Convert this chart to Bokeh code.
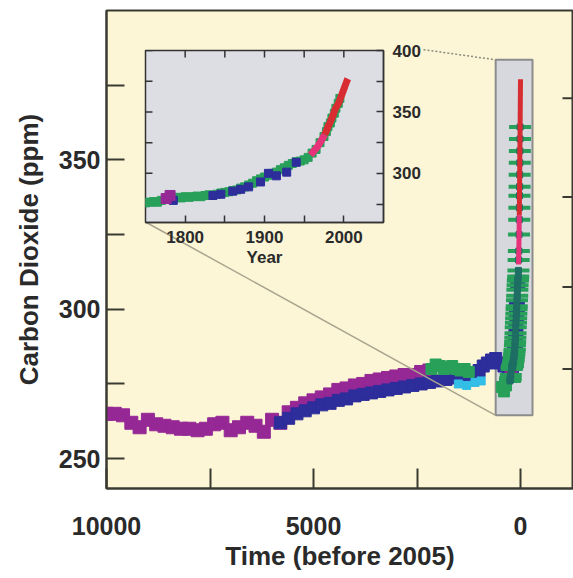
import math
from bokeh.plotting import figure
from bokeh.models import Range1d, FixedTicker
from bokeh.embed import file_html
from bokeh.resources import INLINE

# ---------------- data ----------------
# main panel: years before 2005, CO2 (ppm)
purple_age = [10000, 9800, 9600, 9400, 9200, 9000, 8800, 8600, 8400, 8200, 8000, 7800,
              7600, 7400, 7200, 7000, 6800, 6600, 6400, 6200, 6000, 5800, 5600, 5400,
              5200, 5000, 4800, 4600, 4400, 4200, 4000, 3800, 3600, 3400, 3200, 3000,
              2800, 2600, 2400, 2200]
purple_ppm = [265, 265, 264.5, 262, 260.5, 263, 261.5, 261, 260.5, 260, 260, 259.5,
              260, 261.5, 262, 259.5, 260.5, 262, 261, 259, 263, 262, 265.5, 267,
              268.5, 269.5, 270.5, 271.5, 273, 273.5, 274.5, 275, 276, 276.5, 277, 277.5,
              278, 278, 279, 279.5]

blue_age = [5800, 5600, 5400, 5200, 5000, 4800, 4600, 4400, 4200, 4000, 3800, 3600,
            3400, 3200, 3000, 2800, 2600, 2400, 2200, 2000, 1800, 1600, 1400, 1200,
            1000, 900, 800, 700, 600, 500, 400, 300, 250]
blue_ppm = [262, 263.5, 265, 266, 267, 268, 268.5, 269.5, 270, 271, 271.5, 272,
            272.5, 273, 273.5, 274, 274.5, 275, 275.5, 276, 276.5, 277, 277.5, 278,
            279.5, 281, 282, 283, 283.5, 282, 281, 280, 281]

green_old_age = [2150, 2050, 1950, 1850, 1750, 1650, 1550, 1450, 1350, 1250, 450, 400, 350]
green_old_ppm = [280, 281.5, 281, 280, 280.5, 281, 280, 279.5, 280, 279, 274, 272.5, 274.5]

cyan_age = [1500, 1300, 1100, 950]
cyan_ppm = [275, 274.5, 275.5, 276]

# industrial era (calendar year, ppm) -- shown in the inset and in the spike
green_year = [1750, 1755, 1760, 1765, 1770, 1790, 1795, 1800, 1805, 1810, 1815, 1820,
              1825, 1830, 1840, 1845, 1850, 1855, 1860, 1865, 1870, 1875, 1880, 1885,
              1890, 1895, 1900, 1905, 1910, 1915, 1920, 1925, 1930, 1935, 1940, 1945,
              1950, 1955, 1960, 1965, 1970, 1975, 1978, 1980, 1983, 1985, 1988, 1990,
              1993, 1995]
green_ppm = [276, 276.5, 277, 276.5, 278, 280.5, 280, 281, 280.5, 281, 281.5, 281,
             282, 282.5, 283, 284, 284.5, 285, 286, 286.5, 288, 289, 290.5, 292,
             294, 295.5, 297, 298.5, 300, 301, 303, 304.5, 306.5, 308, 309.5, 310,
             311, 313, 316.5, 319.5, 325, 330, 334, 338, 341, 345, 349, 353,
             357, 361]

navy_year = [1785, 1835, 1845, 1860, 1870, 1880, 1895, 1905, 1915, 1928, 1940]
navy_ppm = [278, 282, 283, 285.5, 287, 289, 293, 300, 298, 301, 309]

purple_ind_year = [1776, 1781]
purple_ind_ppm = [279.5, 282]

ml_year = [1958, 1960, 1962, 1964, 1966, 1968, 1970, 1972, 1974, 1976, 1978, 1980,
           1982, 1984, 1986, 1988, 1990, 1992, 1994, 1996, 1998, 2000, 2002, 2004, 2005]
ml_ppm = [315.0, 316.5, 318.0, 319.5, 321.0, 322.8, 325.0, 327.0, 329.5, 331.5, 334.5,
          338.0, 340.5, 343.5, 346.5, 350.5, 353.5, 355.5, 358.0, 361.5, 365.0, 368.5,
          372.0, 375.5, 377.0]
PINK_UNTIL = 1976

# ticks
x_ticks = [10000, 7500, 5000, 2500, 0]
x_labels = ["10000", "", "5000", "", "0"]
y_ticks = [250, 275, 300, 325, 350, 375]
y_labels = ["250", "", "300", "", "350", ""]
rf_ticks = [0.0, 0.5, 1.0, 1.5]          # radiative forcing (W m-2), right-hand ticks
ins_x_ticks = [1800, 1850, 1900, 1950, 2000]
ins_x_labels = ["1800", "", "1900", "", "2000"]
ins_y_ticks = [275, 300, 325, 350, 375, 400]
ins_y_labels = ["", "300", "", "350", "", "400"]

# zoom box and connectors (main panel data coords)
BOX = dict(left=600, right=-290, bottom=264.5, top=383.5)
CONN_SOLID = ([9058, 600], [329.2, 264.5])
CONN_DOT = ([2343, 600], [386.9, 383.5])

# ---------------- style ----------------
CREAM = "#FCF6D6"
AX = "#3A3A32"
FONT = "Liberation Sans"
C_PURPLE = "#962896"
C_BLUE = "#2D2D9B"
C_GREEN = "#28A05A"
C_CYAN = "#32BEE6"
C_RED = "#D72D32"
C_PINK = "#E63278"


def style_axis(ax, color, width):
    ax.axis_line_color = color
    ax.axis_line_width = width
    ax.major_tick_line_color = color
    ax.major_tick_line_width = width
    ax.major_tick_out = 0
    ax.minor_tick_line_color = None
    ax.minor_tick_out = 0
    ax.minor_tick_in = 0
    ax.major_label_text_font = FONT
    ax.major_label_text_font_style = "bold"
    ax.major_label_text_color = "#2A2A2A"
    ax.axis_label_text_font = FONT
    ax.axis_label_text_font_style = "bold"
    ax.axis_label_text_color = "#2A2A2A"


p = figure(width=573, height=578, output_backend="svg", toolbar_location=None,
           x_range=Range1d(10000, -1280), y_range=Range1d(240, 400),
           min_border_left=106, min_border_right=0, min_border_top=10, min_border_bottom=90,
           background_fill_color=CREAM, border_fill_color="white")
p.grid.visible = False
p.outline_line_color = AX
p.outline_line_width = 2

xa = p.xaxis[0]
xa.ticker = FixedTicker(ticks=x_ticks)
xa.major_label_overrides = dict(zip(x_ticks, x_labels))
xa.axis_label = "Time (before 2005)"
ya = p.yaxis[0]
ya.ticker = FixedTicker(ticks=y_ticks)
ya.major_label_overrides = dict(zip(y_ticks, y_labels))
ya.axis_label = "Carbon Dioxide (ppm)"
for ax in (xa, ya):
    style_axis(ax, AX, 2)
xa.major_tick_in = 20
ya.major_tick_in = 18
xa.major_label_text_font_size = "25px"
ya.major_label_text_font_size = "25px"
xa.axis_label_text_font_size = "26px"
ya.axis_label_text_font_size = "26px"
xa.major_label_standoff = 28
ya.major_label_standoff = 6
xa.axis_label_standoff = 3
ya.axis_label_standoff = 12

# zoom box
p.quad(left=BOX["left"], right=BOX["right"], bottom=BOX["bottom"], top=BOX["top"],
       fill_color="#D6D8DD", line_color="#8C8C8C", line_width=2)

# right-hand (radiative forcing) ticks, half of each dash clipped by the frame
rf_ppm = [280 * math.exp(f / 5.35) for f in rf_ticks]
p.scatter([p.x_range.end] * len(rf_ppm), rf_ppm, marker="dash", size=22,
          line_width=2, line_color=AX)

# data
p.scatter(purple_age, purple_ppm, marker="square", size=13, color=C_PURPLE)
p.scatter(blue_age, blue_ppm, marker="square", size=12, color=C_BLUE)
p.scatter(green_old_age, green_old_ppm, marker="square", size=11, color=C_GREEN)
p.scatter(cyan_age, cyan_ppm, marker="square", size=8, color=C_CYAN)

g_age = [2005 - y for y in green_year]
n_age = [2005 - y for y in navy_year]
pi_age = [2005 - y for y in purple_ind_year]
p.scatter(n_age, navy_ppm, marker="square", size=14, color=C_BLUE)
p.scatter(pi_age, purple_ind_ppm, marker="square", size=12, color=C_PURPLE)
p.scatter(g_age, green_ppm, marker="dash", size=22, line_width=4, color=C_GREEN)
p.scatter(g_age, green_ppm, marker="square", size=6, color="#1E6E64")

pink_y = [y for y in ml_year if y <= PINK_UNTIL]
pink_v = [v for y, v in zip(ml_year, ml_ppm) if y <= PINK_UNTIL]
red_y = [y for y in ml_year if y >= PINK_UNTIL]
red_v = [v for y, v in zip(ml_year, ml_ppm) if y >= PINK_UNTIL]
p.line([2005 - y for y in pink_y], pink_v, line_width=5, color=C_PINK)
p.line([2005 - y for y in red_y], red_v, line_width=5, color=C_RED)

# connectors
p.line(CONN_SOLID[0], CONN_SOLID[1], line_color="#A9A48E", line_width=1.5)
p.line(CONN_DOT[0], CONN_DOT[1], line_color="#8A8A80", line_width=1.5, line_dash="2 2")

# ---------------- inset ----------------
INS_LEFT, INS_TOP = 4, 12
ins = figure(width=287, height=234, output_backend="svg", toolbar_location=None,
             x_range=Range1d(1750, 2050), y_range=Range1d(260, 400),
             y_axis_location="right",
             min_border_left=INS_LEFT, min_border_right=45, min_border_top=INS_TOP,
             min_border_bottom=50,
             background_fill_color="#DCDEE4", border_fill_alpha=0)
ins.grid.visible = False
ins.outline_line_color = "#333333"
ins.outline_line_width = 1.5

ixa = ins.xaxis[0]
ixa.ticker = FixedTicker(ticks=ins_x_ticks)
ixa.major_label_overrides = dict(zip(ins_x_ticks, ins_x_labels))
ixa.axis_label = "Year"
iya = ins.yaxis[0]
iya.ticker = FixedTicker(ticks=ins_y_ticks)
iya.major_label_overrides = dict(zip(ins_y_ticks, ins_y_labels))
for ax in (ixa, iya):
    style_axis(ax, "#333333", 1.5)
    ax.major_tick_in = 7
ixa.major_label_text_font_size = "17px"
iya.major_label_text_font_size = "17px"
ixa.axis_label_text_font_size = "17px"
ixa.major_label_standoff = 8
iya.major_label_standoff = 9
ixa.axis_label_standoff = 2

# left and top tick marks of the inset (outer half clipped by the frame)
ins.scatter([ins.x_range.start] * len(ins_y_ticks), ins_y_ticks, marker="dash",
            size=14, line_width=1.5, line_color="#333333")
ins.scatter(ins_x_ticks, [ins.y_range.end] * len(ins_x_ticks), marker="dash",
            angle=math.pi / 2, size=14, line_width=1.5, line_color="#333333")

ins.scatter(green_year, green_ppm, marker="square", size=8, color=C_GREEN)
ins.scatter(navy_year, navy_ppm, marker="square", size=8, color=C_BLUE)
ins.scatter(purple_ind_year, purple_ind_ppm, marker="square", size=10, color=C_PURPLE)
ins.line(pink_y, pink_v, line_width=7, color=C_PINK)
ins.line(red_y, red_v, line_width=7, color=C_RED)

# the inset floats over the main panel
ins.styles = {"position": "absolute", "left": f"{145 - INS_LEFT}px",
              "top": f"{50 - INS_TOP}px"}

open("out.html", "w").write(file_html([p, ins], INLINE))
